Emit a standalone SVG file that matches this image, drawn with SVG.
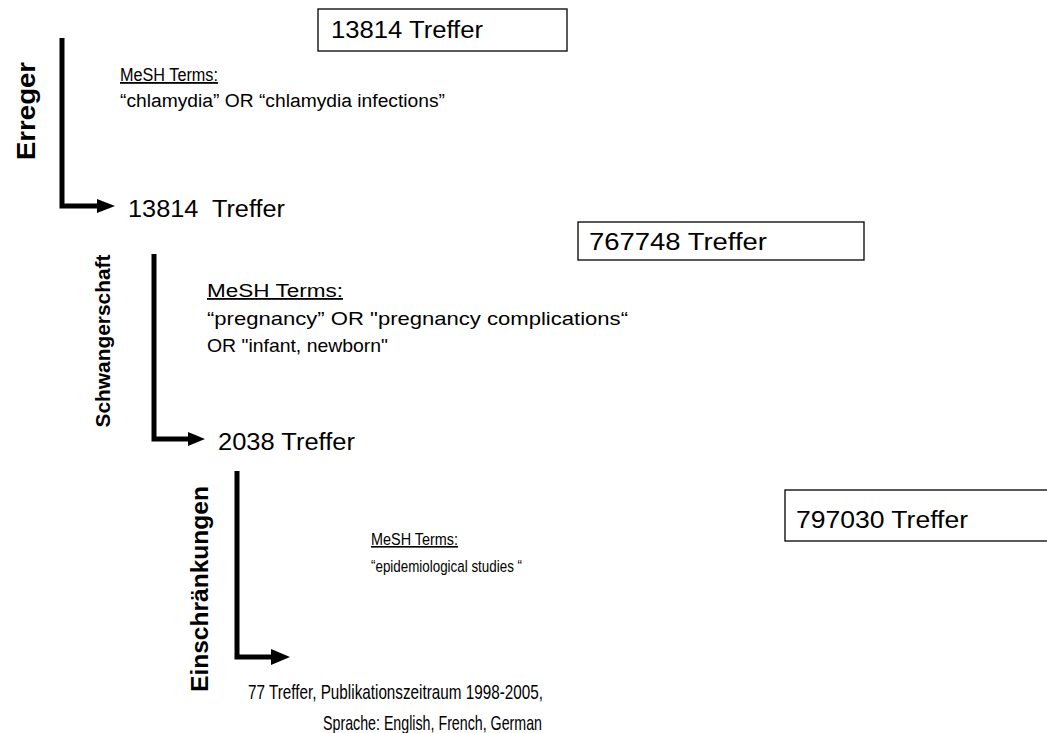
<svg xmlns="http://www.w3.org/2000/svg" width="1047" height="733" viewBox="0 0 1047 733">
<style>
.t{font-family:"Liberation Sans",Arial,sans-serif;fill:#000}
.b{font-size:23px}
.m{font-size:18px}
.u{text-decoration:underline}
.lab{font-family:"Liberation Sans",Arial,sans-serif;font-weight:bold;fill:#000;text-anchor:middle}
.box{fill:#fff;stroke:#000;stroke-width:1.3}
.ln{fill:none;stroke:#000;stroke-width:5}
</style>
<rect width="1047" height="733" fill="#fff"/>
<g id="box1"><rect class="box" x="318" y="9" width="249" height="42"/><text class="t b" x="331" y="38" textLength="152" lengthAdjust="spacingAndGlyphs">13814 Treffer</text></g>
<g id="box2"><rect class="box" x="578" y="222" width="286" height="38"/><text class="t b" x="589" y="250" textLength="178" lengthAdjust="spacingAndGlyphs">767748 Treffer</text></g>
<g id="box3"><rect class="box" x="785" y="490" width="270" height="51"/><text class="t b" x="796" y="528" textLength="172" lengthAdjust="spacingAndGlyphs">797030 Treffer</text></g>
<g id="label1"><text class="lab" style="font-size:26px" transform="translate(35,111) rotate(-90)" textLength="98" lengthAdjust="spacingAndGlyphs">Erreger</text></g>
<g id="label2"><text class="lab" style="font-size:21px" transform="translate(110,341) rotate(-90)" textLength="173" lengthAdjust="spacingAndGlyphs">Schwangerschaft</text></g>
<g id="label3"><text class="lab" style="font-size:23px" transform="translate(208,589) rotate(-90)" textLength="206" lengthAdjust="spacingAndGlyphs">Einschränkungen</text></g>
<g id="terms1"><text class="t m u" x="120" y="81" textLength="98" lengthAdjust="spacingAndGlyphs">MeSH Terms:</text><text class="t m" x="120" y="107" textLength="325" lengthAdjust="spacingAndGlyphs">“chlamydia” OR “chlamydia infections”</text></g>
<g id="terms2"><text class="t u" style="font-size:18px" x="207" y="297" textLength="136" lengthAdjust="spacingAndGlyphs">MeSH Terms:</text><text class="t" style="font-size:19px" x="207" y="325" textLength="421" lengthAdjust="spacingAndGlyphs">“pregnancy” OR "pregnancy complications“</text><text class="t" style="font-size:19px" x="207" y="352" textLength="181" lengthAdjust="spacingAndGlyphs">OR "infant, newborn"</text></g>
<g id="terms3"><text class="t u" style="font-size:16px" x="371" y="545" textLength="87" lengthAdjust="spacingAndGlyphs">MeSH Terms:</text><text class="t" style="font-size:16px" x="371" y="572" textLength="151" lengthAdjust="spacingAndGlyphs">“epidemiological studies “</text></g>
<g id="result1"><text class="t b" x="128" y="217" xml:space="preserve" textLength="157" lengthAdjust="spacingAndGlyphs">13814  Treffer</text></g>
<g id="result2"><text class="t b" x="218" y="450" textLength="137" lengthAdjust="spacingAndGlyphs">2038 Treffer</text></g>
<g id="result3"><text class="t" style="font-size:21px" x="248" y="699" textLength="295" lengthAdjust="spacingAndGlyphs">77 Treffer, Publikationszeitraum 1998-2005,</text><text class="t" style="font-size:21px" x="323" y="730" textLength="219" lengthAdjust="spacingAndGlyphs">Sprache: English, French, German</text></g>
<g id="connectors">
<path class="ln" d="M62,38 V206 H100"/>
<polygon points="97,199 115,206 97,213" fill="#000"/>
<path class="ln" d="M154,254 V439 H190"/>
<polygon points="188,432 205,439 188,446" fill="#000"/>
<path class="ln" d="M237,471 V657 H273"/>
<polygon points="271,649 290,657 271,665" fill="#000"/>
</g>
</svg>
